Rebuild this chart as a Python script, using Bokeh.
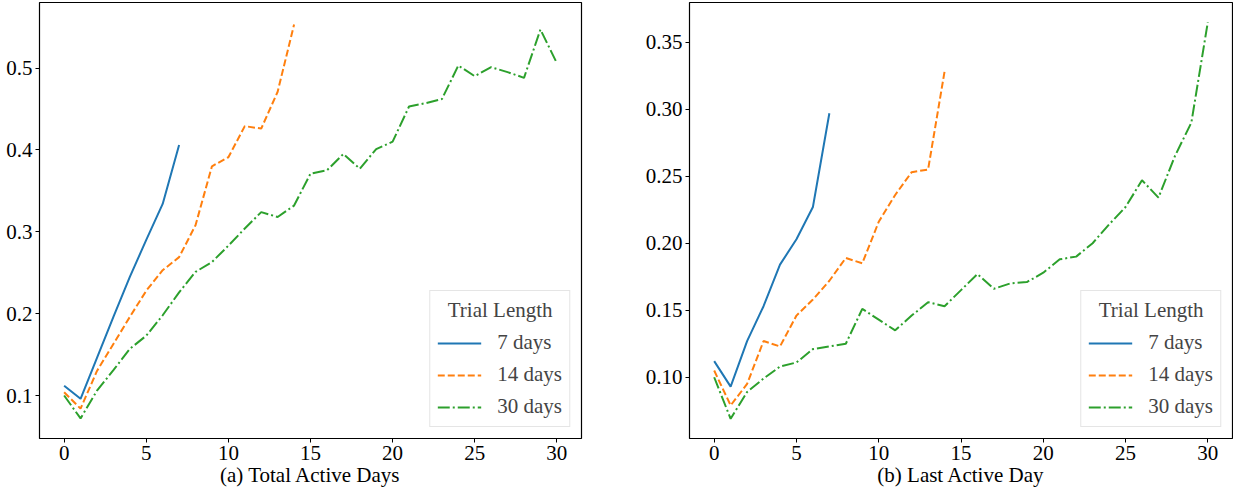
from bokeh.plotting import figure
from bokeh.layouts import row
from bokeh.models import Legend, LegendItem, FixedTicker, PrintfTickFormatter, Range1d
from bokeh.embed import file_html
from bokeh.resources import INLINE

# Conversion rate by day, per trial length
days_7 = list(range(8))
days_14 = list(range(15))
days_30 = list(range(31))

total_7 = [0.112, 0.096, 0.146, 0.196, 0.245, 0.290, 0.334, 0.406]
total_14 = [0.104, 0.084, 0.130, 0.163, 0.196, 0.228, 0.253, 0.269, 0.308,
            0.380, 0.391, 0.429, 0.426, 0.471, 0.553]
total_30 = [0.100, 0.072, 0.106, 0.131, 0.157, 0.173, 0.198, 0.226, 0.251,
            0.263, 0.283, 0.304, 0.324, 0.318, 0.332, 0.371, 0.375, 0.395,
            0.377, 0.401, 0.410, 0.453, 0.457, 0.462, 0.503, 0.490, 0.501,
            0.495, 0.488, 0.547, 0.506]

last_7 = [0.112, 0.093, 0.127, 0.153, 0.184, 0.203, 0.227, 0.297]
last_14 = [0.105, 0.079, 0.095, 0.127, 0.123, 0.146, 0.158, 0.172, 0.189,
           0.185, 0.216, 0.236, 0.253, 0.255, 0.328]
last_30 = [0.100, 0.069, 0.089, 0.099, 0.108, 0.111, 0.121, 0.123, 0.125,
           0.151, 0.143, 0.135, 0.146, 0.156, 0.153, 0.165, 0.177, 0.166,
           0.170, 0.171, 0.178, 0.188, 0.190, 0.200, 0.214, 0.227, 0.247,
           0.234, 0.265, 0.290, 0.365]

series_labels = ["7 days", "14 days", "30 days"]
x_ticks = [0, 5, 10, 15, 20, 25, 30]
ticks_a = [0.1, 0.2, 0.3, 0.4, 0.5]
ticks_b = [0.10, 0.15, 0.20, 0.25, 0.30, 0.35]

FONT = "Liberation Serif"
SIZE = "21px"
COLORS = ["#1f77b4", "#ff7f0e", "#2ca02c"]
DASHES = ["solid", "7 3", "12 3 2 3"]
# non-breaking spaces nudge the legend title toward the centre of the box
LEGEND_TITLE = "\u00a0\u00a0Trial Length"


def make_panel(xs, ys, title, yrange, yticks, fmt, left, right, fw):
    p = figure(frame_width=fw, frame_height=436,
               min_border_left=left, min_border_right=right,
               min_border_top=2, min_border_bottom=10,
               x_range=Range1d(-1.5, 31.5), y_range=Range1d(*yrange),
               output_backend="svg", toolbar_location=None)
    p.xgrid.visible = False
    p.ygrid.visible = False
    p.outline_line_color = "black"
    p.outline_line_width = 1.2
    p.background_fill_color = "white"
    p.border_fill_color = "white"

    items = []
    for x, y, c, d, lab in zip(xs, ys, COLORS, DASHES, series_labels):
        r = p.line(x, y, line_color=c, line_width=2, line_dash=d)
        items.append(LegendItem(label=lab, renderers=[r]))

    p.xaxis.ticker = FixedTicker(ticks=x_ticks)
    p.yaxis.ticker = FixedTicker(ticks=yticks)
    p.yaxis.formatter = PrintfTickFormatter(format=fmt)
    for ax in (p.xaxis[0], p.yaxis[0]):
        ax.axis_line_color = None
        ax.major_tick_line_color = "black"
        ax.major_tick_in = 0
        ax.major_tick_out = 4
        ax.minor_tick_line_color = None
        ax.major_label_text_font = FONT
        ax.major_label_text_font_size = SIZE
        ax.major_label_text_color = "black"
        ax.major_label_standoff = 3
    p.xaxis.axis_label = title
    p.xaxis.axis_label_text_font = FONT
    p.xaxis.axis_label_text_font_size = SIZE
    p.xaxis.axis_label_text_font_style = "normal"
    p.xaxis.axis_label_text_color = "black"
    p.xaxis.axis_label_standoff = 0

    legend = Legend(items=items, location="bottom_right",
                    title=LEGEND_TITLE,
                    title_text_font=FONT, title_text_font_size=SIZE,
                    title_text_font_style="normal", title_standoff=7,
                    label_text_font=FONT, label_text_font_size=SIZE,
                    glyph_width=44, glyph_height=20, label_standoff=16,
                    spacing=7, padding=7, margin=11,
                    border_line_color="#cccccc", border_line_width=1,
                    background_fill_alpha=0.8)
    p.add_layout(legend)
    return p


p1 = make_panel([days_7, days_14, days_30], [total_7, total_14, total_30],
                "(a) Total Active Days", (0.0475, 0.580), ticks_a, "%.1f",
                39, 48, 542)
p2 = make_panel([days_7, days_14, days_30], [last_7, last_14, last_30],
                "(b) Last Active Day", (0.0543, 0.3796), ticks_b, "%.2f",
                60, 1, 543)

layout = row(p1, p2)
open("out.html", "w").write(file_html(layout, INLINE))
